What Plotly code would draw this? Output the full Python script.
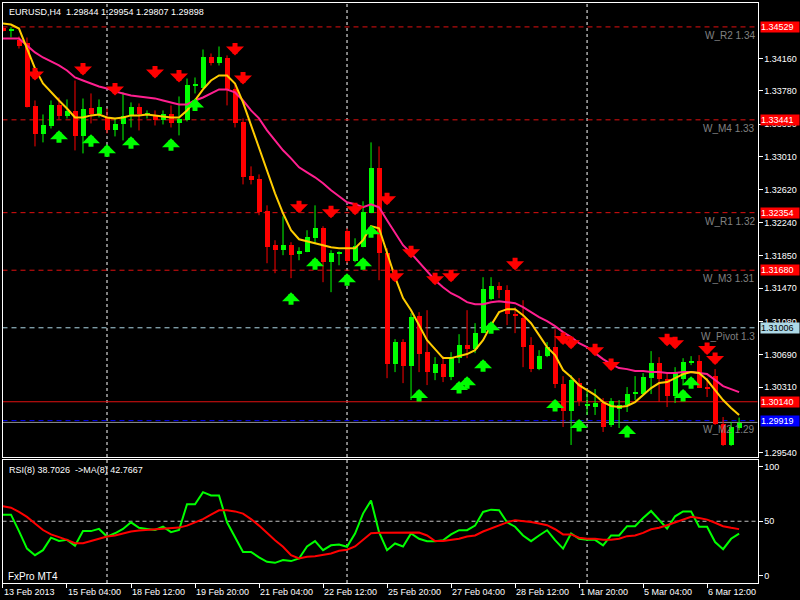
import plotly.graph_objects as go

# H4 bar number: 0 = Mon 18 Feb 2013 00:00 (6 bars per trading day)
bars = list(range(-13, 80))

opens = [1.34522, 1.34495, 1.34382, 1.34347, 1.33610, 1.33282, 1.33375, 1.33621, 1.33493, 1.33551,
         1.33259, 1.33586, 1.33516, 1.33481, 1.33329, 1.33399, 1.33493, 1.33598, 1.33504, 1.33493,
         1.33446, 1.33516, 1.33411, 1.33446, 1.33844, 1.33820, 1.34183, 1.34113, 1.34171, 1.33808,
         1.33422, 1.32791, 1.32755, 1.32382, 1.31984, 1.31926, 1.31984, 1.31879, 1.31902, 1.32066,
         1.32183, 1.31786, 1.31879, 1.32148, 1.31797, 1.31961, 1.32359, 1.32884, 1.31891, 1.30592,
         1.30850, 1.30569, 1.31154, 1.30732, 1.30487, 1.30592, 1.30440, 1.30662, 1.30814, 1.30768,
         1.30955, 1.31352, 1.31504, 1.31457, 1.31177, 1.31130, 1.30814, 1.30534, 1.30686, 1.30791,
         1.30358, 1.30043, 1.30370, 1.30102, 1.30090, 1.30137, 1.29868, 1.30066, 1.30102, 1.30242,
         1.30242, 1.30429, 1.30604, 1.30417, 1.30218, 1.30417, 1.30604, 1.30627, 1.30312, 1.30452,
         1.29891, 1.29634, 1.29844]
highs = [1.34534, 1.34526, 1.34417, 1.34405, 1.33668, 1.33504, 1.33668, 1.33703, 1.33680, 1.33902,
         1.33691, 1.33750, 1.33680, 1.33574, 1.33457, 1.33762, 1.33645, 1.33633, 1.33551, 1.33551,
         1.33551, 1.33610, 1.33715, 1.33925, 1.33937, 1.34265, 1.34218, 1.34300, 1.34195, 1.33867,
         1.33457, 1.32896, 1.32802, 1.32440, 1.32031, 1.32312, 1.32008, 1.31949, 1.32148, 1.32440,
         1.32195, 1.31914, 1.31902, 1.32171, 1.32054, 1.32487, 1.33177, 1.33130, 1.31938, 1.30873,
         1.30873, 1.31177, 1.31189, 1.31212, 1.30662, 1.30674, 1.30721, 1.30931, 1.31212, 1.31060,
         1.31598, 1.31598, 1.31540, 1.31504, 1.31247, 1.31329, 1.30896, 1.30744, 1.30838, 1.30990,
         1.30440, 1.30452, 1.30417, 1.30277, 1.30289, 1.30183, 1.30183, 1.30160, 1.30312, 1.30440,
         1.30475, 1.30733, 1.30662, 1.30475, 1.30545, 1.30650, 1.30674, 1.30686, 1.30417, 1.30522,
         1.29961, 1.29903, 1.29954]
lows = [1.34475, 1.34405, 1.34276, 1.33586, 1.33130, 1.33177, 1.33340, 1.33446, 1.33457, 1.33083,
        1.33048, 1.33399, 1.33469, 1.33282, 1.33247, 1.33200, 1.33352, 1.33317, 1.33457, 1.33375,
        1.33387, 1.33352, 1.33259, 1.33423, 1.33750, 1.33808, 1.34078, 1.34078, 1.33610, 1.33352,
        1.32685, 1.32685, 1.32324, 1.31762, 1.31645, 1.31856, 1.31587, 1.31797, 1.31891, 1.31996,
        1.31540, 1.31423, 1.31738, 1.31762, 1.31774, 1.31949, 1.32347, 1.31563, 1.30416, 1.30487,
        1.30358, 1.30160, 1.30487, 1.30335, 1.30393, 1.30370, 1.30393, 1.30592, 1.30650, 1.30709,
        1.30943, 1.31329, 1.31352, 1.31037, 1.30943, 1.30545, 1.30487, 1.30510, 1.30662, 1.30300,
        1.29844, 1.29634, 1.30090, 1.29985, 1.29985, 1.29786, 1.29844, 1.29832, 1.30020, 1.30160,
        1.30218, 1.30230, 1.30137, 1.30078, 1.30125, 1.30335, 1.30569, 1.30300, 1.30195, 1.29868,
        1.29622, 1.29622, 1.29807]
closes = [1.34487, 1.34514, 1.34312, 1.33598, 1.33282, 1.33387, 1.33621, 1.33493, 1.33551, 1.33259,
          1.33574, 1.33516, 1.33598, 1.33329, 1.33399, 1.33493, 1.33598, 1.33516, 1.33516, 1.33446,
          1.33516, 1.33411, 1.33457, 1.33855, 1.33867, 1.34183, 1.34113, 1.34183, 1.33808, 1.33411,
          1.32779, 1.32744, 1.32370, 1.31961, 1.31926, 1.31984, 1.31867, 1.31914, 1.32078, 1.32183,
          1.31786, 1.31891, 1.31902, 1.31797, 1.31973, 1.32370, 1.32884, 1.31891, 1.30592, 1.30850,
          1.30569, 1.31142, 1.30709, 1.30498, 1.30592, 1.30440, 1.30674, 1.30814, 1.30768, 1.30955,
          1.31469, 1.31504, 1.31457, 1.31177, 1.31154, 1.30791, 1.30534, 1.30686, 1.30791, 1.30358,
          1.30043, 1.30405, 1.30160, 1.30113, 1.30137, 1.29856, 1.30160, 1.30102, 1.30242, 1.30265,
          1.30440, 1.30604, 1.30417, 1.30218, 1.30487, 1.30615, 1.30627, 1.30312, 1.30300, 1.29891,
          1.29634, 1.29856, 1.29898]

ma_fast = [1.34569, 1.34557, 1.34510, 1.34276, 1.34043, 1.33867, 1.33762, 1.33668, 1.33574, 1.33469,
           1.33469, 1.33493, 1.33504, 1.33469, 1.33457, 1.33469, 1.33493, 1.33493, 1.33504, 1.33493,
           1.33481, 1.33469, 1.33469, 1.33551, 1.33668, 1.33797, 1.33902, 1.33961, 1.33961, 1.33867,
           1.33645, 1.33376, 1.33107, 1.32850, 1.32581, 1.32347, 1.32148, 1.32043, 1.32019, 1.31996,
           1.31973, 1.31949, 1.31938, 1.31938, 1.31938, 1.32031, 1.32195, 1.32171, 1.31879, 1.31598,
           1.31353, 1.31212, 1.31037, 1.30861, 1.30756, 1.30651, 1.30651, 1.30674, 1.30698, 1.30744,
           1.30861, 1.31037, 1.31189, 1.31224, 1.31224, 1.31154, 1.31060, 1.30920, 1.30780, 1.30686,
           1.30511, 1.30429, 1.30335, 1.30277, 1.30218, 1.30136, 1.30090, 1.30078, 1.30090, 1.30136,
           1.30218, 1.30300, 1.30359, 1.30370, 1.30417, 1.30464, 1.30487, 1.30476, 1.30394, 1.30277,
           1.30160, 1.30066, 1.29984]
ma_slow = [1.34394, 1.34394, 1.34394, 1.34312, 1.34230, 1.34171, 1.34125, 1.34078, 1.34019, 1.33937,
           1.33902, 1.33867, 1.33832, 1.33809, 1.33774, 1.33750, 1.33727, 1.33715, 1.33703, 1.33692,
           1.33668, 1.33645, 1.33622, 1.33622, 1.33668, 1.33703, 1.33750, 1.33797, 1.33797, 1.33762,
           1.33668, 1.33551, 1.33458, 1.33318, 1.33201, 1.33084, 1.32990, 1.32885, 1.32826, 1.32768,
           1.32698, 1.32616, 1.32546, 1.32475, 1.32452, 1.32417, 1.32452, 1.32417, 1.32265, 1.32113,
           1.31973, 1.31879, 1.31774, 1.31657, 1.31563, 1.31481, 1.31411, 1.31364, 1.31306, 1.31282,
           1.31282, 1.31306, 1.31318, 1.31306, 1.31294, 1.31247, 1.31189, 1.31130, 1.31084, 1.31025,
           1.30955, 1.30896, 1.30826, 1.30780, 1.30709, 1.30639, 1.30581, 1.30534, 1.30522, 1.30499,
           1.30499, 1.30487, 1.30487, 1.30476, 1.30476, 1.30487, 1.30487, 1.30476, 1.30464, 1.30394,
           1.30323, 1.30288, 1.30253]

rsi = [56, 56, 41, 25, 19, 23.6, 35, 32, 33, 27.6, 41, 41, 43, 36, 39, 43, 49, 44, 43, 42,
       45, 40, 42, 65.5, 65.5, 76.6, 73.6, 73.6, 49, 35.8, 22, 22, 17, 13, 12, 14.5, 13.6, 16, 27, 31.8,
       23.6, 28, 28.8, 26.7, 38.8, 57, 69, 40, 23.6, 29.7, 27, 38.8, 34, 31.8, 31.8, 32.7, 38, 41.8, 41.8, 46,
       58.5, 60.6, 60, 49, 45, 37, 31.8, 37, 41.8, 32.7, 25, 38.8, 34, 33, 33, 28, 37, 37, 45.5, 45.5,
       53, 59.4, 51.5, 43.3, 54.5, 59, 59, 45, 45, 31, 24.5, 34, 38.7]
rsi_ma = [63.6, 62.4, 58.5, 54, 48, 42, 38, 35.8, 33, 30, 30, 32, 34, 36, 37, 39, 40.6, 41.5, 42, 42.7,
          43.3, 43.6, 44.2, 46, 49, 52, 56, 60, 60, 59, 57, 52, 46, 39, 32.7, 26.7, 19, 16, 17.6, 18,
          19, 20.6, 23, 24, 27, 32.7, 39, 39.4, 39.5, 39.6, 39.7, 39.7, 39.7, 37, 32, 32, 33, 34, 36, 37,
          40.6, 43.6, 46.4, 49, 51, 50.4, 49.4, 48, 46.4, 42.7, 38, 38, 35, 34, 34, 33, 33, 34, 36.4, 37,
          39.4, 42.7, 44, 46.4, 49, 52, 54, 53, 51.5, 48.6, 45.5, 44, 42.8]

sell_bars = [-9, -3, 1, 6, 9, 16, 17, 24, 28, 31, 35, 36, 38, 41, 43, 51, 57, 58, 61, 63, 70, 71, 75, 76]
sell_prices = [1.33984, 1.34043, 1.33809, 1.34008, 1.33961, 1.34277, 1.33937, 1.32429, 1.32370, 1.32405,
               1.32522, 1.31622, 1.31902, 1.31587, 1.31622, 1.31762, 1.30885, 1.30838, 1.30756, 1.30581,
               1.30873, 1.30838, 1.30768, 1.30651]
buy_bars = [-6, -2, 0, 3, 8, 11, 23, 26, 30, 32, 33, 39, 44, 45, 47, 48, 56, 59, 65, 72, 73]
buy_prices = [1.33236, 1.33189, 1.33072, 1.33166, 1.33142, 1.33610, 1.31341, 1.31750, 1.31563, 1.31750,
              1.32125, 1.30207, 1.30300, 1.30358, 1.30557, 1.31002, 1.30090, 1.29856, 1.29786, 1.30207,
              1.30358]

level_names = ["W_R2 1.34", "W_M4 1.33", "W_R1 1.32", "W_M3 1.31", "W_Pivot 1.3", "W_M2 1.29"]
level_prices = [1.34529, 1.33441, 1.32354, 1.31680, 1.31006, 1.29919]
level_colors = ["#e01010", "#e01010", "#e01010", "#e01010", "#add8e6", "#0000ff"]
box_bg = ["#ff0000", "#ff0000", "#ff0000", "#ff0000", "#add8e6", "#0000ff"]
box_fg = ["white", "white", "white", "white", "black", "white"]
line_price = 1.30140
bid_price = 1.29898

price_ticks = [1.34160, 1.33780, 1.33390, 1.33010, 1.32620, 1.32240, 1.31850, 1.31470,
               1.31080, 1.30690, 1.30310, 1.29540]
tick_bars = [-13, -5, 3, 11, 19, 27, 35, 43, 51, 59, 67, 75]
tick_labels = ["13 Feb 2013", "15 Feb 04:00", "18 Feb 12:00", "19 Feb 20:00", "21 Feb 04:00",
               "22 Feb 12:00", "25 Feb 20:00", "27 Feb 04:00", "28 Feb 12:00", "1 Mar 20:00",
               "5 Mar 04:00", "6 Mar 12:00"]
week_bars = [0, 30, 60]

title_text = "EURUSD,H4  1.29844 1.29954 1.29807 1.29898"
rsi_text = "RSI(8) 38.7026  ->MA(8) 42.7667"
broker_text = "FxPro MT4"

# ---------------------------------------------------------------------------
W, H = 800, 600
FONT = "Liberation Sans, Arial, sans-serif"
GREEN, RED = "#00ff00", "#ff0000"


def px(v, total):
    return v / total


fig = go.Figure()

# candle wicks
for up in (True, False):
    wx, wy = [], []
    for b, o, h, l, c in zip(bars, opens, highs, lows, closes):
        if (c >= o) == up:
            wx += [b, b, None]
            wy += [l, h, None]
    fig.add_trace(go.Scatter(x=wx, y=wy, mode="lines", line=dict(color=GREEN if up else RED, width=1),
                             hoverinfo="skip", showlegend=False, xaxis="x", yaxis="y"))

# candle bodies
body_base = [min(o, c) for o, c in zip(opens, closes)]
body_h = [max(abs(c - o), 0.00012) for o, c in zip(opens, closes)]
body_col = [GREEN if c >= o else RED for o, c in zip(opens, closes)]
fig.add_trace(go.Bar(x=bars, y=body_h, base=body_base, width=0.62,
                     marker=dict(color=body_col, line=dict(width=0)),
                     showlegend=False, xaxis="x", yaxis="y"))

# moving averages
fig.add_trace(go.Scatter(x=bars, y=ma_slow, mode="lines", line=dict(color="#ff1f8f", width=2),
                         showlegend=False, xaxis="x", yaxis="y"))
fig.add_trace(go.Scatter(x=bars, y=ma_fast, mode="lines", line=dict(color="#ffcc00", width=2),
                         showlegend=False, xaxis="x", yaxis="y"))

# RSI pane
fig.add_trace(go.Scatter(x=bars, y=rsi, mode="lines", line=dict(color=GREEN, width=2),
                         showlegend=False, xaxis="x2", yaxis="y2"))
fig.add_trace(go.Scatter(x=bars, y=rsi_ma, mode="lines", line=dict(color=RED, width=2),
                         showlegend=False, xaxis="x2", yaxis="y2"))

x_left, x_right = 2.5, 757.5
main_top, main_bot = 2.5, 457
rsi_top, rsi_bot = 459.5, 583
xrange = [-13.06, 81.3]

axis_common = dict(showgrid=False, zeroline=False, showline=True, mirror=True,
                   linecolor="white", linewidth=1)

fig.update_layout(
    width=W, height=H, margin=dict(l=0, r=0, t=0, b=0),
    paper_bgcolor="black", plot_bgcolor="black",
    bargap=0, showlegend=False, hovermode=False,
    font=dict(family=FONT, size=9, color="white"),
    xaxis=dict(domain=[px(x_left, W), px(x_right, W)], range=xrange, anchor="y",
               showticklabels=False, ticks="", **axis_common),
    yaxis=dict(domain=[1 - px(main_bot, H), 1 - px(main_top, H)], range=[1.29493, 1.34815],
               side="right", anchor="x", tickvals=price_ticks, tickformat=".5f",
               ticks="outside", ticklen=4, tickcolor="white",
               tickfont=dict(family=FONT, size=9, color="white"), **axis_common),
    xaxis2=dict(domain=[px(x_left, W), px(x_right, W)], range=xrange, anchor="y2",
                tickvals=tick_bars, ticktext=tick_labels, ticks="outside", ticklen=4,
                tickcolor="white", ticklabelposition="outside right",
                tickfont=dict(family=FONT, size=9, color="white"), **axis_common),
    yaxis2=dict(domain=[1 - px(rsi_bot, H), 1 - px(rsi_top, H)], range=[-6.4, 106.4],
                side="right", anchor="x2", tickvals=[0, 50, 100], ticks="outside", ticklen=4,
                tickcolor="white", tickfont=dict(family=FONT, size=9, color="white"), **axis_common),
)

shapes = []
# weekly separators across both panes
for wb in week_bars:
    shapes.append(dict(type="line", xref="x", yref="paper", x0=wb, x1=wb,
                       y0=1 - px(rsi_bot, H), y1=1 - px(main_top, H),
                       line=dict(color="white", width=1, dash="3px,3px"), layer="below"))
# weekly pivot levels
for p, col in zip(level_prices, level_colors):
    shapes.append(dict(type="line", xref="x domain", yref="y", x0=0, x1=1, y0=p, y1=p,
                       line=dict(color=col, width=1, dash="5px,4px"), layer="below"))
shapes.append(dict(type="line", xref="x domain", yref="y", x0=0, x1=1, y0=line_price, y1=line_price,
                   line=dict(color="#e01010", width=1), layer="below"))
shapes.append(dict(type="line", xref="x domain", yref="y", x0=0, x1=1, y0=bid_price, y1=bid_price,
                   line=dict(color="#909090", width=1), layer="below"))
# RSI 50 level
shapes.append(dict(type="line", xref="x2 domain", yref="y2", x0=0, x1=1, y0=50, y1=50,
                   line=dict(color="#c0c0c0", width=1, dash="4px,3px"), layer="below"))
fig.update_layout(shapes=shapes)

ann = []
ann.append(dict(text=title_text, xref="paper", yref="paper", x=px(7, W), y=1 - px(5, H),
                xanchor="left", yanchor="top", showarrow=False,
                font=dict(family=FONT, size=9, color="white")))
ann.append(dict(text=rsi_text, xref="paper", yref="paper", x=px(7, W), y=1 - px(463, H),
                xanchor="left", yanchor="top", showarrow=False,
                font=dict(family=FONT, size=9, color="white")))
ann.append(dict(text=broker_text, xref="paper", yref="paper", x=px(6, W), y=1 - px(569, H),
                xanchor="left", yanchor="top", showarrow=False,
                font=dict(family=FONT, size=10, color="white")))
# level name labels
for name, p in zip(level_names, level_prices):
    ann.append(dict(text=name, xref="paper", yref="y", x=px(757, W), y=p, xanchor="right",
                    yanchor="top", yshift=-1, showarrow=False,
                    font=dict(family=FONT, size=10, color="#808080")))
# price boxes on the right scale
for p, bg, fg in zip(level_prices + [line_price], box_bg + ["#ff0000"], box_fg + ["white"]):
    ann.append(dict(text=f"{p:.5f}", xref="paper", yref="y", x=px(760, W), y=p, xanchor="left",
                    yanchor="middle", showarrow=False, bgcolor=bg, width=38, height=10,
                    borderpad=0, align="left", font=dict(family=FONT, size=9, color=fg)))
# signal arrows
for b, p in zip(sell_bars, sell_prices):
    ann.append(dict(text="", x=b, y=p, xref="x", yref="y", showarrow=True, ax=0, ay=-14,
                    yshift=-7, arrowhead=1, arrowsize=0.6, arrowwidth=5, arrowcolor=RED))
for b, p in zip(buy_bars, buy_prices):
    ann.append(dict(text="", x=b, y=p, xref="x", yref="y", showarrow=True, ax=0, ay=14,
                    yshift=7, arrowhead=1, arrowsize=0.6, arrowwidth=5, arrowcolor=GREEN))
fig.update_layout(annotations=ann)

fig.write_html("out.html", config={"displayModeBar": False},
               post_script="document.body.style.margin='0';document.body.style.overflow='hidden';")
